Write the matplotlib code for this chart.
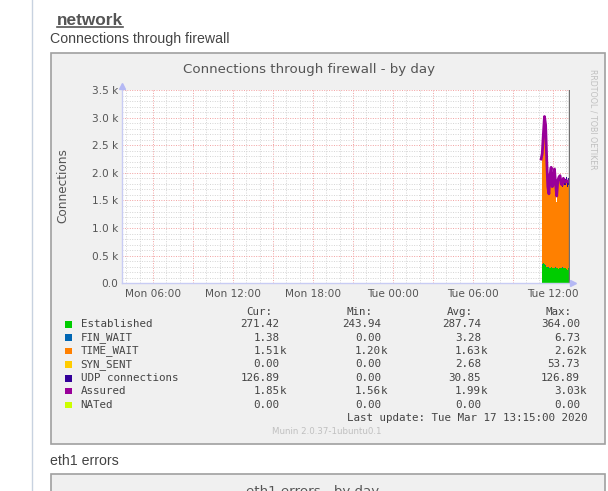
import matplotlib
matplotlib.use("Agg")
import matplotlib.pyplot as plt
import matplotlib.patches as patches
import numpy as np

W, H = 608, 491

# samples every 5 minutes, hours since Mon 00:00 (last one is Tue 13:15)
t0 = 35 + 10 / 60
times = [t0 + i * 5 / 60 for i in range(26)]

established = [300, 340, 364, 350, 320, 300, 290, 285, 280, 290, 275, 280, 270,
               285, 275, 280, 265, 270, 275, 285, 280, 270, 275, 260, 243.94, 271.42]
fin_wait = [6.73, 5, 4, 6, 5, 4, 3, 3, 4, 3, 2, 3, 4, 3, 2, 3, 0, 2, 3, 4, 3, 2, 3, 2, 3, 1.38]
time_wait = [2000, 2200, 2450, 2620, 2500, 2000, 1600, 1500, 1600, 1700, 1550, 1500, 1600,
             1500, 1200, 1450, 1550, 1600, 1500, 1450, 1550, 1500, 1500, 1550, 1500, 1510]
syn_sent = [0, 53.73, 20, 0, 0, 0, 0, 0, 0, 0, 0, 0, 0, 0, 0, 0, 0, 0, 0, 0, 0, 0, 0, 0, 0, 0]
udp = [0] * 18 + [50, 80, 100, 110, 115, 120, 125, 126.89]
assured = [2250, 2350, 2700, 3020, 2870, 2250, 1750, 1620, 1960, 2100, 1750, 1800, 2070,
           1800, 1580, 1860, 1920, 1950, 1800, 1780, 1900, 1840, 1830, 1860, 1840, 1850]
nated = [0] * 26

names = ["Established", "FIN_WAIT", "TIME_WAIT", "SYN_SENT", "UDP connections", "Assured", "NATed"]
colors = ["#00cc00", "#0066b3", "#ff8000", "#ffcc00", "#330099", "#990099", "#ccff00"]
cur = ["271.42", "1.38", "1.51k", "0.00", "126.89", "1.85k", "0.00"]
mins = ["243.94", "0.00", "1.20k", "0.00", "0.00", "1.56k", "0.00"]
avgs = ["287.74", "3.28", "1.63k", "2.68", "30.85", "1.99k", "0.00"]
maxs = ["364.00", "6.73", "2.62k", "53.73", "126.89", "3.03k", "0.00"]

xticks = [6, 12, 18, 24, 30, 36]
xlabels = ["Mon 06:00", "Mon 12:00", "Mon 18:00", "Tue 00:00", "Tue 06:00", "Tue 12:00"]
yticks = [0, 500, 1000, 1500, 2000, 2500, 3000, 3500]
ylabels = ["0.0", "0.5 k", "1.0 k", "1.5 k", "2.0 k", "2.5 k", "3.0 k", "3.5 k"]


def px(x, y):
    return x / W, 1 - y / H


fig = plt.figure(figsize=(W / 100, H / 100), dpi=100)
fig.patch.set_facecolor("white")

# page decorations
fig.add_artist(plt.Line2D([31.7 / W] * 2, [0, 1], color="#c8d2e0", lw=1, zorder=-10))
fig.text(*px(57, 25), "network", family="Liberation Sans", fontsize=12.4,
         fontweight="bold", color="#555555", va="baseline")
fig.add_artist(plt.Line2D([57 / W, 123 / W], [1 - 26.5 / H] * 2, color="#555555", lw=1.2))
fig.text(*px(50, 39), "Connections through firewall", family="Liberation Sans",
         fontsize=10.2, color="#444444", va="center")
fig.text(*px(50, 461), "eth1 errors", family="Liberation Sans",
         fontsize=10.2, color="#444444", va="center")

for top, bottom in [(52.7, 444), (474.3, 520)]:
    x0, y0 = px(50.5, bottom)
    fig.add_artist(patches.Rectangle((x0, y0), (605 - 50.5) / W, (bottom - top) / H,
                                     transform=fig.transFigure, facecolor="#f0f0f0",
                                     edgecolor="#a0a0a0", lw=1.2, zorder=-10))

fig.text(*px(309.2, 70), "Connections through firewall - by day", fontsize=9.65,
         color="#555555", ha="center", va="center")
fig.text(*px(313, 491), "eth1 errors - by day", fontsize=9.65,
         color="#555555", ha="center", va="center")
fig.text(*px(593, 119), "RRDTOOL / TOBI OETIKER", fontsize=5.7, color="#c0c0c0",
         rotation=270, ha="center", va="center")
fig.text(*px(63.3, 186), "Connections", fontsize=8.7, color="#555555",
         rotation=90, ha="center", va="center")

# plot area
xmin, xmax = 3.65, 37.27
pph = 13.327
left = 153 - (6 - xmin) * pph
right = 153 + (xmax - 6) * pph
bot, topp = 283.3, 90
ax = fig.add_axes([left / W, 1 - bot / H, (right - left) / W, (bot - topp) / H])
ax.set_xlim(xmin, xmax)
ax.set_ylim(0, 3500)
ax.set_facecolor("white")
for s in ax.spines.values():
    s.set_visible(False)

for h in np.arange(4, 38, 1):
    major = h % 3 == 0
    ax.axvline(h, color="#f2a0a0" if major else "#d4d4d4", lw=0.7,
               ls=(0, (1, 1.5)), zorder=0)
for v in range(0, 3600, 100):
    major = v % 500 == 0
    ax.axhline(v, color="#f2a0a0" if major else "#d4d4d4", lw=0.7,
               ls=(0, (1, 1.5)), zorder=0)

ax.set_xticks(xticks)
ax.set_xticklabels(xlabels)
ax.set_yticks(yticks)
ax.set_yticklabels(ylabels)
ax.tick_params(length=0, labelsize=7.6, labelcolor="#555555")
ax.tick_params(axis="x", pad=4.2)
ax.tick_params(axis="y", pad=2.6)

stack = [established, fin_wait, time_wait, syn_sent, udp]
base = np.zeros(len(times))
for vals, c in zip(stack, colors[:5]):
    upper = base + np.array(vals)
    ax.fill_between(times, base, upper, step="pre", color=c, lw=0, zorder=2)
    base = upper
ax.plot(np.array(times) - 2.5 / 60, assured, color=colors[5], lw=2.0, zorder=3)
ax.plot(times, nated, color=colors[6], lw=0.8, zorder=3)
ax.axvline(times[-1], color="#707070", lw=1, zorder=4)

# axes with arrows
axis_c = "#c8ccf4"
ax.plot([xmin, xmax + 0.25], [0, 0], color=axis_c, lw=1, clip_on=False, zorder=4)
ax.plot([xmin, xmin], [0, 3560], color=axis_c, lw=1, clip_on=False, zorder=4)
ax.plot([xmax + 0.25], [0], marker=">", color="#b4b8f4", ms=4, clip_on=False, zorder=4)
ax.plot([xmin], [3580], marker="^", color="#b4b8f4", ms=4, clip_on=False, zorder=4)

# legend
mono = "DejaVu Sans Mono"
fs = 7.8
lc = "#444444"
heads = [("Cur:", 246.7), ("Min:", 346.7), ("Avg:", 446.7), ("Max:", 545)]
for txt, x in heads:
    fig.text(*px(x, 311.7), txt, family=mono, fontsize=fs, color=lc, va="center")
rows = [324.3, 337.7, 351, 364.3, 378.3, 391, 405]
edges = [279.3, 381, 481, 580]
for i, y in enumerate(rows):
    sx, sy = px(65, y + 3.2)
    fig.add_artist(patches.Rectangle((sx, sy), 6.5 / W, 6.5 / H, transform=fig.transFigure,
                                     facecolor=colors[i], lw=0))
    fig.text(*px(80.7, y), names[i], family=mono, fontsize=fs, color=lc, va="center")
    for col, edge in zip([cur, mins, avgs, maxs], edges):
        val = col[i]
        num, suf = (val[:-1], "k") if val.endswith("k") else (val, "")
        fig.text(*px(edge, y), num, family=mono, fontsize=fs, color=lc,
                 ha="right", va="center")
        if suf:
            fig.text(*px(edge, y), suf, family=mono, fontsize=fs, color=lc,
                     ha="left", va="center")
fig.text(*px(587.3, 417.7), "Last update: Tue Mar 17 13:15:00 2020", family=mono,
         fontsize=fs, color=lc, ha="right", va="center")
fig.text(*px(327, 431.7), "Munin 2.0.37-1ubuntu0.1", fontsize=6.2, color="#c0c0c0",
         ha="center", va="center")

fig.savefig("out.png", dpi=100)
